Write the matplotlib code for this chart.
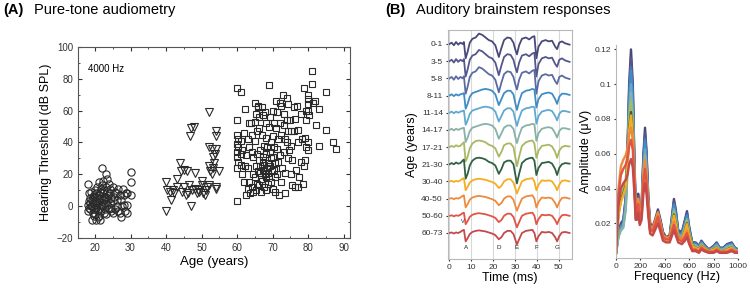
import matplotlib.pyplot as plt
import numpy as np

plt.rcParams['font.family'] = ['Liberation Sans', 'DejaVu Sans']

# ---------- Panel A: pure-tone thresholds at 4000 Hz (age, threshold dB SPL) ----------
circles = [
    (18.0, 14), (18.2, 3), (17.9, 1), (18.4, -1), (18.1, -3), (18.6, 5), (18.3, 8), (18.8, 0), (18.5, 2), (18.7, -2),
    (19.0, 9), (19.3, 6), (19.1, 4), (19.5, 2), (19.2, 0), (19.6, -2), (19.4, -4), (19.8, -6), (19.2, -9), (19.7, 7), (19.9, 3),
    (20.0, 10), (20.3, 8), (20.1, 6), (20.5, 5), (20.2, 3), (20.6, 1), (20.4, -1), (20.8, -3), (20.1, -5), (20.7, -7),
    (20.4, -9), (20.9, 2), (20.6, 12),
    (21.0, 15), (21.3, 9), (21.1, 7), (21.5, 5), (21.2, 3), (21.6, 1), (21.4, -1), (21.8, -3), (21.1, -6), (21.3, -9),
    (21.7, 11), (21.9, 0),
    (22.0, 24), (22.3, 16), (22.1, 13), (22.5, 10), (22.2, 8), (22.6, 6), (22.4, 4), (22.8, 2), (22.1, 0), (22.7, -2),
    (22.4, -4), (22.9, 5),
    (23.0, 20), (23.3, 17), (23.1, 12), (23.5, 9), (23.2, 6), (23.6, 4), (23.4, 1), (23.8, -2), (23.1, -5), (23.7, 7),
    (24.0, 14), (24.3, 11), (24.1, 8), (24.5, 5), (24.2, 2), (24.6, -1), (24.4, -3),
    (25.0, 12), (25.3, 6), (25.1, 3), (25.5, -2), (25.2, -4), (25.6, 9),
    (26.0, 8), (26.3, 4), (26.1, 0), (26.5, -3), (26.4, 11),
    (27.0, 7), (27.3, 4), (27.1, -4), (27.2, -7), (27.5, 0),
    (28.0, 11), (28.3, 7), (28.1, 1), (28.4, -3), (28.6, 8),
    (29.0, 8), (29.1, 1), (29.0, -4),
    (30.0, 21.5), (30.0, 15), (30.2, 7),
]

triangles = [
    (40.0, -3), (40.0, 15), (40.2, 10), (41.0, 9), (41.3, 4), (42.0, 10), (42.3, 8), (43.0, 17), (43.2, 12),
    (44.0, 27), (44.3, 22), (45.0, 23), (45.2, 12), (46.0, 22), (46.2, 8), (47.0, 49), (46.8, 44), (47.2, 10),
    (47.0, 0), (48.0, 50), (48.2, 21), (48.3, 11), (48.6, 8), (49.0, 10), (49.4, 9), (50.0, 16), (50.2, 13),
    (50.4, 8), (51.0, 7), (51.3, 10), (52.0, 59), (52.0, 37), (52.1, 25), (52.3, 22), (52.0, 13), (53.0, 36),
    (53.1, 31), (52.9, 20), (53.2, 24), (54.0, 47), (54.0, 44), (54.2, 36), (53.9, 33), (54.0, 12), (54.2, 11),
    (55.0, 22), (53.4, 27), (44.5, 9), (45.6, 7), (51.6, 12), (46.4, 13),
]

squares = [
    (60.0, 74), (60.0, 54), (60.1, 45), (60.0, 39), (60.2, 37), (60.0, 34), (60.1, 31), (60.3, 28), (60.0, 24),
    (60.0, 3), (60.4, 42),
    (61.2, 72), (61.0, 41), (61.3, 35), (61.1, 33), (61.4, 20), (61.2, 26),
    (62.2, 61), (62.0, 46), (62.4, 32), (62.2, 25), (62.0, 15), (62.5, 7),
    (63.0, 42), (63.3, 37), (63.1, 24), (63.5, 15), (63.2, 11), (63.6, 8), (63.4, 52),
    (64.0, 52), (64.3, 45), (64.1, 34), (64.5, 20), (64.2, 12), (64.6, 9), (64.4, 31),
    (65.0, 65), (65.3, 58), (65.1, 53), (65.5, 47), (65.2, 41), (65.6, 33), (65.4, 25), (65.8, 22), (65.1, 18),
    (65.7, 14), (65.3, 10), (65.9, 62),
    (66.0, 63), (66.3, 56), (66.1, 49), (66.5, 35), (66.2, 29), (66.6, 25), (66.4, 21), (66.8, 17), (66.1, 13),
    (66.7, 9),
    (67.0, 62), (67.3, 57), (67.1, 45), (67.5, 38), (67.2, 31), (67.6, 26), (67.4, 23), (67.8, 20), (67.1, 16),
    (67.7, 12), (67.3, 28),
    (68.0, 59), (68.3, 52), (68.1, 43), (68.5, 37), (68.2, 33), (68.6, 27), (68.4, 24), (68.8, 21), (68.1, 18),
    (68.7, 14), (68.3, 10),
    (69.0, 76), (69.3, 56), (69.1, 50), (69.5, 40), (69.2, 34), (69.6, 30), (69.4, 25), (69.8, 22), (69.1, 19),
    (69.7, 15),
    (70.0, 60), (70.3, 52), (70.1, 44), (70.5, 37), (70.2, 31), (70.6, 27), (70.4, 23), (70.8, 18), (70.1, 11),
    (70.7, 9),
    (71.0, 66), (71.3, 59), (71.1, 49), (71.5, 42), (71.2, 36), (71.6, 28), (71.4, 20), (71.8, 7),
    (72.0, 65), (72.3, 63), (72.1, 52), (72.5, 45), (72.2, 32), (72.6, 24), (72.4, 15),
    (73.0, 70), (73.3, 58), (73.1, 51), (73.5, 42), (73.2, 34), (73.6, 21), (73.4, 8),
    (74.0, 68), (74.3, 64), (74.1, 54), (74.5, 47), (74.2, 40), (74.6, 35), (74.4, 30),
    (75.0, 54), (75.3, 47), (75.1, 38), (75.5, 29), (75.2, 20), (75.6, 13),
    (76.0, 62), (76.3, 55), (76.1, 47), (76.5, 23), (76.2, 12),
    (77.0, 63), (77.3, 48), (77.1, 40), (77.5, 18), (77.2, 12),
    (78.0, 58), (78.3, 42), (78.1, 28), (78.5, 14),
    (79.0, 74), (79.3, 54), (79.1, 43), (79.5, 37), (79.2, 29), (79.0, 25), (79.4, 60),
    (80.0, 70), (80.0, 67), (80.1, 64), (80.0, 60), (80.2, 57), (80.0, 40), (80.1, 35),
    (81.0, 85), (81.2, 77), (81.4, 65),
    (82.0, 66), (82.3, 51),
    (83.0, 38), (83.2, 61),
    (85.0, 72), (85.2, 48),
    (87.0, 40),
    (88.0, 36),
]

# ---------- Panel B: speech ABR waveforms and spectra ----------
age_groups = ['0-1', '3-5', '5-8', '8-11', '11-14', '14-17', '17-21', '21-30',
              '30-40', '40-50', '50-60', '60-73']
group_colors = ['#4a4878', '#53578c', '#5b6ba2', '#3f8dc6', '#5fa9d2', '#86b2a8',
                '#a9b862', '#2f6142', '#f5ae22', '#ef8a3c', '#e25443', '#c44a4a']

t_ms = [0, 1, 2, 3, 4, 5, 6, 6.6, 7.4, 8.3, 9.3, 10.5, 12, 13.5, 15, 16.5, 18, 19.5, 21, 22.6,
        23.8, 25, 26.5, 28, 29.3, 30.1, 30.9, 31.9, 33.2, 35, 36.5, 38, 38.9, 39.8, 40.8, 42.3,
        44, 45.5, 47, 48.4, 49.3, 50.3, 51.5, 53, 55]

wave_young = [0, 1, -1, 1.5, -0.5, 1, 0, 1.5, -11, -6, 1, 4, 5, 8, 7, 5, 3, 2, -1, -10, -3, 3, 5,
              4.5, 1, -4, -8, -1, 4, 5, 3.5, 5.5, 6, -11, -2, 2, 3, 2, 2.5, -2, -4, 1, 2, 0.5, -0.5]
wave_child = [0, 1, -0.5, 1, 0, 1, 1.5, 2, -11, -7, -1, 2, 3, 4, 5, 5.5, 5, 4, 1, -8, -3, 2, 4, 4,
              1, -6, -12, -5, 2, 4, 4.5, 5.5, 5, -10, -3, 1, 2, 2.5, 1.5, -3, -7, -1, 1.5, 1.5, 0.5]
wave_adult = [0, 1, 0, 1.5, 0.5, 1, 3, 4, -12, -8, -1, 3, 5, 5.5, 5, 4, 2, 1, -1, -8, -4, 1.5, 3, 3,
              0, -8, -16, -8, 1, 4, 5, 5.5, 3, -9, -3, 1, 1.5, 2, 0.5, -4, -9, -3, 0, 1, 0.5]
wave_old = [0, 0.5, -0.5, 0.5, 0, 1, 2.5, 3, -8, -5, -1, 1, 2, 2.5, 2, 1.5, 0.5, -0.5, -2, -6, -4, 0,
            2, 2, -1, -6, -11, -6, 0, 2, 2.5, 3, 0, -8, -3, 1, 0.5, 1, 0, -4, -8, -3, 0.5, 1, 0]
wave_of_group = [wave_young] * 3 + [wave_child] * 3 + [wave_adult] * 2 + [wave_old] * 4
wave_gain = [1.3, 1.4, 1.4, 1.2, 1.1, 1.1, 1.2, 1.2, 1.1, 1.1, 1.05, 1.05]

peak_labels = ['A', 'D', 'E', 'F', 'G']
peak_times = [7.4, 22.6, 30.9, 39.8, 49.3]

freq_hz = [0, 20, 40, 60, 80, 95, 108, 123, 138, 150, 162, 172, 182, 195, 210, 225, 238, 250, 265,
           280, 300, 320, 344, 365, 385, 410, 440, 460, 475, 490, 510, 540, 565, 582, 600, 625, 653,
           680, 700, 721, 760, 800, 825, 850, 880, 910, 948, 975, 1000]
spec_young = [0.003, 0.015, 0.02, 0.022, 0.035, 0.065, 0.1, 0.12, 0.1, 0.06, 0.028, 0.03, 0.037,
              0.025, 0.03, 0.06, 0.075, 0.062, 0.035, 0.02, 0.018, 0.022, 0.028, 0.022, 0.015,
              0.012, 0.013, 0.025, 0.034, 0.028, 0.016, 0.015, 0.022, 0.027, 0.018, 0.009, 0.009,
              0.007, 0.01, 0.008, 0.005, 0.007, 0.009, 0.006, 0.006, 0.008, 0.009, 0.006, 0.005]
spec_adult = [0.003, 0.025, 0.033, 0.037, 0.042, 0.055, 0.075, 0.084, 0.072, 0.045, 0.024, 0.025,
              0.03, 0.022, 0.027, 0.045, 0.053, 0.045, 0.028, 0.016, 0.014, 0.018, 0.024, 0.018,
              0.012, 0.01, 0.011, 0.019, 0.025, 0.02, 0.012, 0.011, 0.016, 0.02, 0.013, 0.007,
              0.006, 0.005, 0.007, 0.006, 0.004, 0.005, 0.006, 0.004, 0.004, 0.005, 0.006, 0.004, 0.004]
spec_old = [0.003, 0.03, 0.04, 0.043, 0.045, 0.048, 0.054, 0.057, 0.052, 0.038, 0.022, 0.022, 0.026,
            0.019, 0.022, 0.037, 0.043, 0.037, 0.024, 0.014, 0.013, 0.016, 0.02, 0.015, 0.01, 0.009,
            0.009, 0.013, 0.016, 0.013, 0.009, 0.008, 0.01, 0.012, 0.008, 0.004, 0.004, 0.003,
            0.005, 0.004, 0.003, 0.003, 0.004, 0.003, 0.003, 0.003, 0.004, 0.003, 0.003]
spec_of_group = [spec_young] * 6 + [spec_adult] * 3 + [spec_old] * 3
f0_peak = [0.12, 0.115, 0.11, 0.108, 0.1, 0.095, 0.09, 0.084, 0.082, 0.075, 0.068, 0.057]

fig = plt.figure(figsize=(7.5, 2.89), dpi=100)

# ---- Panel A ----
axA = fig.add_axes([0.104, 0.1765, 0.363, 0.661])
mk = dict(linestyle='none', markerfacecolor='none', markeredgecolor='#2a2a2a', markeredgewidth=0.8)
cx, cy = np.array(circles).T
tx, ty = np.array(triangles).T
sx, sy = np.array(squares).T
axA.plot(cx, cy, 'o', markersize=5.2, **mk)
axA.plot(tx, ty, 'v', markersize=5.5, **mk)
axA.plot(sx, sy, 's', markersize=5, **mk)
axA.set_xlim(15.2, 91.9)
axA.set_ylim(-20, 100)
axA.set_xticks(range(20, 91, 10))
axA.set_yticks(range(-20, 101, 20))
axA.set_xticks(range(20, 91, 5), minor=True)
axA.set_yticks(range(-20, 101, 10), minor=True)
axA.tick_params(direction='in', top=True, right=True, which='both', labelsize=7, colors='#333333')
axA.tick_params(which='major', length=3)
axA.tick_params(which='minor', length=1.5)
for s in axA.spines.values():
    s.set_color('#555555')
    s.set_linewidth(0.8)
axA.set_xlabel('Age (years)', fontsize=9.5, labelpad=2)
axA.set_ylabel('Hearing Threshold (dB SPL)', fontsize=9, labelpad=3)
axA.text(0.038, 0.885, '4000 Hz', transform=axA.transAxes, fontsize=7, va='center')

fig.text(0.004, 0.965, '(A)', fontsize=10.5, fontweight='bold', va='center')
fig.text(0.045, 0.965, 'Pure-tone audiometry', fontsize=10.5, va='center')
fig.text(0.513, 0.965, '(B)', fontsize=10.5, fontweight='bold', va='center')
fig.text(0.555, 0.965, 'Auditory brainstem responses', fontsize=10.5, va='center')

# ---- Panel B: waveforms ----
px_per_row = 17.2
axW = fig.add_axes([0.597, 0.104, 0.1653, 0.792])
for i, grp in enumerate(age_groups):
    y = -i + np.array(wave_of_group[i]) * wave_gain[i] / px_per_row
    axW.plot(t_ms, y, color=group_colors[i], lw=1.3)
for lab, tm in zip(peak_labels, peak_times):
    axW.text(tm, -11.85, lab, fontsize=4.5, ha='center', va='center', color='#222222')
axW.text(6.2, -10.33, 'V', fontsize=4, ha='center', va='center', color='#222222')
axW.set_xlim(-0.8, 56)
axW.set_ylim(-12.51, 0.81)
axW.set_xticks(range(0, 51, 10))
axW.set_yticks([-i for i in range(len(age_groups))])
axW.set_yticklabels(age_groups)
axW.xaxis.grid(True, color='#d8d8d8', lw=0.8)
axW.set_axisbelow(True)
axW.tick_params(labelsize=6, length=1.5, colors='#333333', pad=2)
for s in axW.spines.values():
    s.set_color('#b8b8b8')
    s.set_linewidth(0.8)
axW.set_xlabel('Time (ms)', fontsize=9, labelpad=1)
axW.set_ylabel('Age (years)', fontsize=9, labelpad=2)

# ---- Panel B: spectra ----
axS = fig.add_axes([0.8213, 0.107, 0.1627, 0.737])
for i in range(len(age_groups)):
    spec = np.array(spec_of_group[i])
    axS.plot(freq_hz, spec * f0_peak[i] / spec.max(), color=group_colors[i], lw=1.7)
axS.set_xlim(0, 1000)
axS.set_ylim(0, 0.1225)
axS.set_xticks(range(0, 1001, 200))
axS.set_yticks([0.02, 0.04, 0.06, 0.08, 0.1, 0.12])
axS.set_yticklabels(['0.02', '0.04', '0.06', '0.08', '0.1', '0.12'])
axS.tick_params(labelsize=6, length=1.5, colors='#333333', pad=2)
axS.spines['top'].set_visible(False)
axS.spines['right'].set_visible(False)
for side in ['left', 'bottom']:
    axS.spines[side].set_color('#b8b8b8')
    axS.spines[side].set_linewidth(0.8)
axS.set_xlabel('Frequency (Hz)', fontsize=9, labelpad=1)
axS.set_ylabel('Amplitude (\u03bcV)', fontsize=9, labelpad=2)

fig.savefig('out.png', dpi=100)
